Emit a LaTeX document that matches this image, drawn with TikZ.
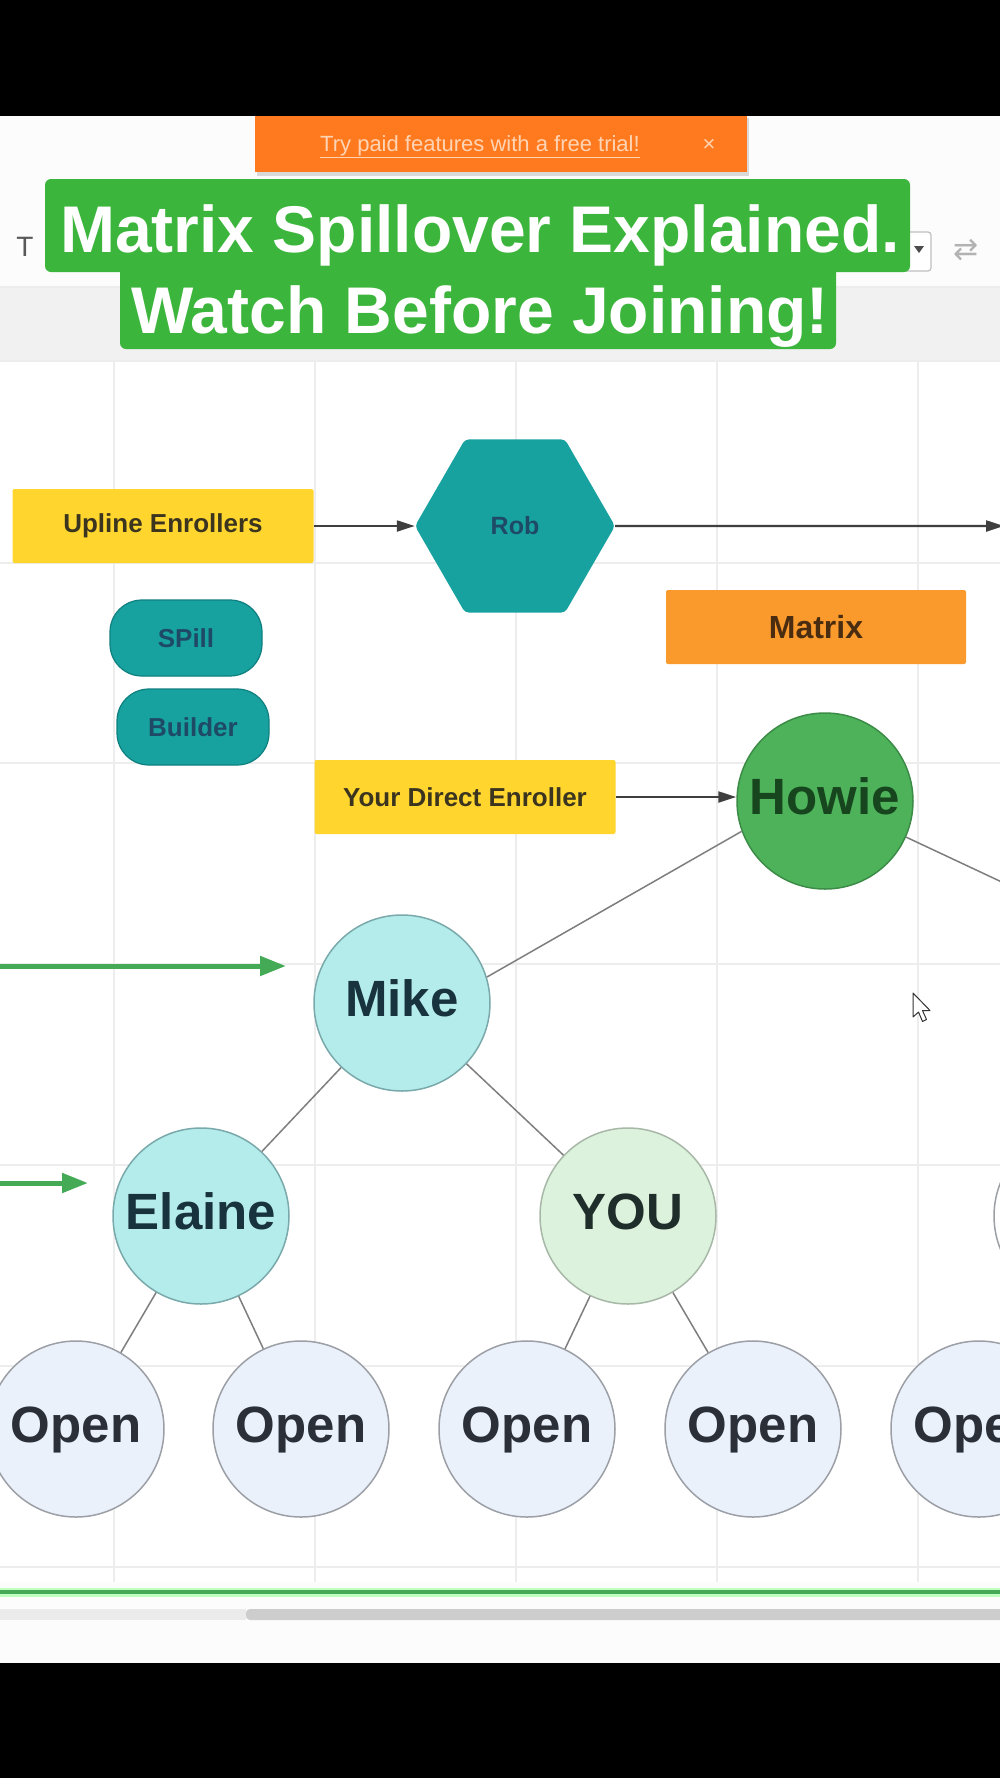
\documentclass[tikz,border=0pt]{standalone}
\usepackage{fontspec}
\setmainfont{Liberation Sans}
\newfontfamily\djv{DejaVu Sans}
\usetikzlibrary{shapes.geometric,arrows.meta,calc}
\newcommand\fsz[1]{\fontsize{#1}{#1}\selectfont}
\definecolor{cYellow}{HTML}{FFD52E}
\definecolor{cYtext}{HTML}{3B3520}
\definecolor{cTeal}{HTML}{17A2A0}
\definecolor{cTealD}{HTML}{0F7F80}
\definecolor{cTealText}{HTML}{1E4A66}
\definecolor{cOrange}{HTML}{FA9A2C}
\definecolor{cOrText}{HTML}{4A2C10}
\definecolor{cHowie}{HTML}{4DB25A}
\definecolor{cHowieD}{HTML}{3C8C48}
\definecolor{cHowieT}{HTML}{16451E}
\definecolor{cMike}{HTML}{B4EBEB}
\definecolor{cMikeD}{HTML}{7AA9AB}
\definecolor{cMikeT}{HTML}{18333D}
\definecolor{cYou}{HTML}{DCF2DC}
\definecolor{cYouD}{HTML}{A8B8A8}
\definecolor{cYouT}{HTML}{1F2E2A}
\definecolor{cOpen}{HTML}{EAF1FB}
\definecolor{cOpenD}{HTML}{9C9FA5}
\definecolor{cOpenT}{HTML}{2B3038}
\definecolor{cTitle}{HTML}{3CB53C}
\definecolor{cBanner}{HTML}{FF7A1E}
\definecolor{cBannerT}{HTML}{FFD4B4}
\definecolor{cLink}{HTML}{7E7E7E}
\definecolor{cArrow}{HTML}{3F3F3F}
\definecolor{cGArrow}{HTML}{45AA55}
\definecolor{cGrid}{HTML}{EDEDED}
\definecolor{cBand}{HTML}{F1F1F1}
\definecolor{cPaper}{HTML}{FCFCFC}
\definecolor{cScroll}{HTML}{CDCDCD}
\begin{document}
\begin{tikzpicture}[x=1pt,y=-1pt,
  ybox/.style={rectangle, fill=cYellow, minimum width=301pt, minimum height=74pt, inner sep=0pt, rounded corners=2pt, font=\bfseries\fsz{26}, text=cYtext},
  obox/.style={rectangle, fill=cOrange, minimum width=300pt, minimum height=74pt, inner sep=0pt, rounded corners=2pt, font=\bfseries\fsz{32}, text=cOrText},
  pill/.style={rectangle, rounded corners=32pt, fill=cTeal, draw=cTealD, line width=1.2pt, minimum width=152pt, minimum height=76pt, inner sep=0pt, font=\bfseries\fsz{26}, text=cTealText},
  hexa/.style={regular polygon, regular polygon sides=6, minimum size=200pt, inner sep=0pt, fill=cTeal, rounded corners=4pt, font=\bfseries\fsz{25}, text=cTealText},
  person/.style={circle, minimum size=176pt, inner sep=0pt, line width=1.5pt, font=\bfseries\fsz{51}, text height=36pt, text depth=10pt},
  howiec/.style={person, fill=cHowie, draw=cHowieD, text=cHowieT},
  mikec/.style={person, fill=cMike, draw=cMikeD, text=cMikeT},
  youc/.style={person, fill=cYou, draw=cYouD, text=cYouT},
  openc/.style={person, fill=cOpen, draw=cOpenD, text=cOpenT},
  blankc/.style={person, fill=white, draw=cOpenD},
  link/.style={draw=cLink, line width=1.5pt},
  arr/.style={draw=cArrow, line width=2.2pt, -{Triangle[length=18pt,width=11pt]}},
  garr/.style={draw=cGArrow, line width=5pt, -{Triangle[length=26pt,width=19pt]}},
  titletext/.style={anchor=base, text=white, font=\bfseries\fsz{66}, inner sep=0pt},
  gridline/.style={draw=cGrid, line width=1.5pt}
]
\useasboundingbox (0,0) rectangle (1000,1778);
\clip (0,0) rectangle (1000,1778);
% backgrounds
\fill[white] (0,0) rectangle (1000,1778);
\fill[cPaper] (0,116) rectangle (1000,287);
\fill[cBand] (0,287) rectangle (1000,361);
\draw[cGrid, line width=1.5pt] (0,287) -- (1000,287);
\draw[cGrid, line width=1.5pt] (0,361) -- (1000,361);
% grid
\foreach \gx in {114,315,516,717,918} \draw[gridline] (\gx,361) -- (\gx,1582);
\foreach \gy in {563,763,964,1165,1366,1567} \draw[gridline] (0,\gy) -- (1000,\gy);
% toolbar items
\node[text=black!65, font=\fsz{28}, inner sep=0pt] (tbT) at (25,247) {T};
\draw[draw=black!25, fill=white, rounded corners=3pt, line width=1.2pt] (870,232) rectangle (931,271);
\fill[black!70] (914,246) -- (924,246) -- (919,253) -- cycle;
\node[text=black!30, font=\djv\fsz{30}, inner sep=0pt] (tbSwap) at (966,250) {⇄};
% banner
\fill[black!15] (257,118) rectangle (749,176);
\fill[cBanner] (255,116) rectangle (747,172);
\node[anchor=base, text=cBannerT, font=\fsz{22}, inner sep=0pt] (bannertxt) at (480,151) {\underline{Try paid features with a free trial!}};
\node[anchor=base, text=cBannerT, font=\fsz{22}, inner sep=0pt] (bannerx) at (709,151) {×};
% title
\fill[cTitle, rounded corners=6pt] (45,179) rectangle (910,272);
\fill[cTitle, rounded corners=6pt] (120,266) rectangle (836,349);
\node[titletext] (title1) at (480,252) {Matrix Spillover Explained.};
\node[titletext] (title2) at (480,333) {Watch Before Joining!};
% nodes
\node[ybox] (upline) at (163,526) {Upline Enrollers};
\node[hexa] (rob) at (515,526) {Rob};
\node[pill] (spill) at (186,638) {SPill};
\node[pill] (builder) at (193,727) {Builder};
\node[obox] (matrix) at (816,627) {Matrix};
\node[ybox] (direct) at (465,797) {Your Direct Enroller};
\node[howiec] (howie) at (825,801) {Howie};
\node[mikec] (mike) at (402,1003) {Mike};
\node[mikec] (elaine) at (201,1216) {Elaine};
\node[youc] (you) at (628,1216) {YOU};
\node[blankc] (extra) at (1082,1216) {};
\node[openc] (open1) at (76,1429) {Open};
\node[openc] (open2) at (301,1429) {Open};
\node[openc] (open3) at (527,1429) {Open};
\node[openc] (open4) at (753,1429) {Open};
\node[openc] (open5) at (979,1429) {Open};
% free ends
\coordinate (robR) at (1004,526);
\coordinate (howieR) at (1006,884);
\coordinate (g1s) at (-5,966);
\coordinate (g1e) at (286,966);
\coordinate (g2s) at (-5,1183);
\coordinate (g2e) at (88,1183);
% connectors
\draw[arr] (upline.east) -- (upline.east -| rob.west);
\draw[arr] (rob.east) -- (robR);
\draw[arr] (direct.east) -- (direct.east -| howie.west);
\draw[link] (howie.200) -- (mike.17);
\draw[link] (howie.-24) -- (howieR);
\draw[link] (mike) -- (elaine);
\draw[link] (mike) -- (you);
\draw[link] (elaine) -- (open1);
\draw[link] (elaine) -- (open2);
\draw[link] (you) -- (open3);
\draw[link] (you) -- (open4);
\draw[garr] (g1s) -- (g1e);
\draw[garr] (g2s) -- (g2e);
% cursor
\draw[fill=white, draw=black!80, line width=1pt, line join=round] (913,993) -- (913,1017) -- (918.5,1012) -- (922.5,1021.5) -- (926.5,1019.5) -- (922.5,1010.5) -- (930,1010.5) -- cycle;
% bottom bar
\fill[cPaper] (0,1582) rectangle (1000,1663);
\draw[green!25!white, line width=9pt] (0,1592) -- (1000,1592);
\draw[cGArrow, line width=4pt] (0,1592) -- (1000,1592);
\fill[black!8] (0,1609) rectangle (246,1620);
\fill[cScroll, rounded corners=4pt] (246,1609) rectangle (1010,1620);
% black bands
\fill[black] (0,0) rectangle (1000,116);
\fill[black] (0,1663) rectangle (1000,1778);
\end{tikzpicture}
\end{document}
